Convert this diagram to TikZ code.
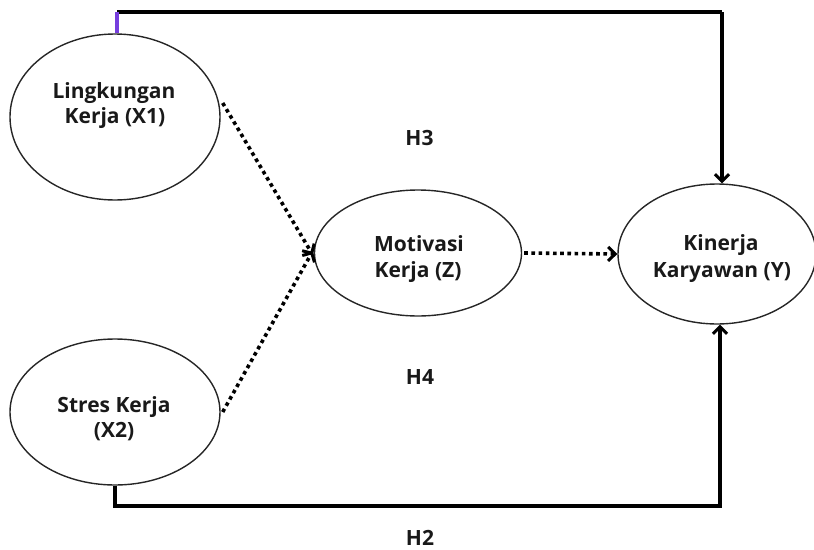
\documentclass[tikz,border=0pt]{standalone}
\usepackage{fontspec}
\setmainfont{Open Sans}
\usetikzlibrary{arrows.meta,shapes.geometric}
\definecolor{linkviolet}{RGB}{118,62,222}
\tikzset{
  var/.style={draw=black!85, line width=1.4pt, ellipse, inner sep=0pt},
  txt/.style={font=\bfseries\fontsize{21}{25}\selectfont, anchor=base, inner sep=0pt, text=black!90},
  path/.style={line width=3.4pt, line join=miter},
  dotpath/.style={line width=3.6pt, dash pattern=on 3.6pt off 3.6pt},
  tip/.style={-{Straight Barb[length=7pt,width=14pt,line width=3pt]}}
}
\begin{document}
\begin{tikzpicture}[x=1pt,y=-1pt]
  \useasboundingbox (0,0) rectangle (814,549);
  % latent variables
  \node[var, minimum width=210pt, minimum height=166pt] (x1) at (115,117) {};
  \node[var, minimum width=210pt, minimum height=146pt] (x2) at (115,412) {};
  \node[var, minimum width=207pt, minimum height=126pt] (z) at (418,253) {};
  \node[var, minimum width=198pt, minimum height=140pt] (y) at (717,254) {};
  % variable names, one node per line, placed on their baselines
  \node[txt] (x1a) at (114,98) {Lingkungan};
  \node[txt] (x1b) at (115,123) {Kerja (X1)};
  \node[txt] (x2a) at (114,412) {Stres Kerja};
  \node[txt] (x2b) at (114,437) {(X2)};
  \node[txt] (za) at (419,251) {Motivasi};
  \node[txt] (zb) at (418,277) {Kerja (Z)};
  \node[txt] (ya) at (721,250) {Kinerja};
  \node[txt] (yb) at (722,277) {Karyawan (Y)};
  % corner points of the direct paths
  \coordinate (tl) at (117,12);
  \coordinate (tr) at (722,12);
  \coordinate (bl) at (115,506);
  \coordinate (br) at (720,506);
  % direct effect X1 -> Y
  \draw[path] (tl) -- (tr);
  \draw[path, tip] (tr) -- (y.north -| tr);
  \draw[line width=3.4pt, linkviolet] (x1.north -| tl) -- (tl);
  % direct effect X2 -> Y
  \draw[path, tip] (x2.south -| bl) |- (br) -- (y.south -| br);
  % mediated paths
  \draw[dotpath, tip] (x1.east) ++(2,-14) -- ([xshift=-1pt,yshift=-2pt]z.west);
  \draw[dotpath, tip] (x2.east) ++(2,0) -- ([xshift=-1pt,yshift=2pt]z.west);
  \draw[dotpath, tip] (z.east) ++(2,0) -- (y.west);
  % hypothesis labels
  \node[txt] (h3) at (419.5,145) {H3};
  \node[txt] (h4) at (420,384) {H4};
  \node[txt] (h2) at (420,545) {H2};
\end{tikzpicture}
\end{document}
